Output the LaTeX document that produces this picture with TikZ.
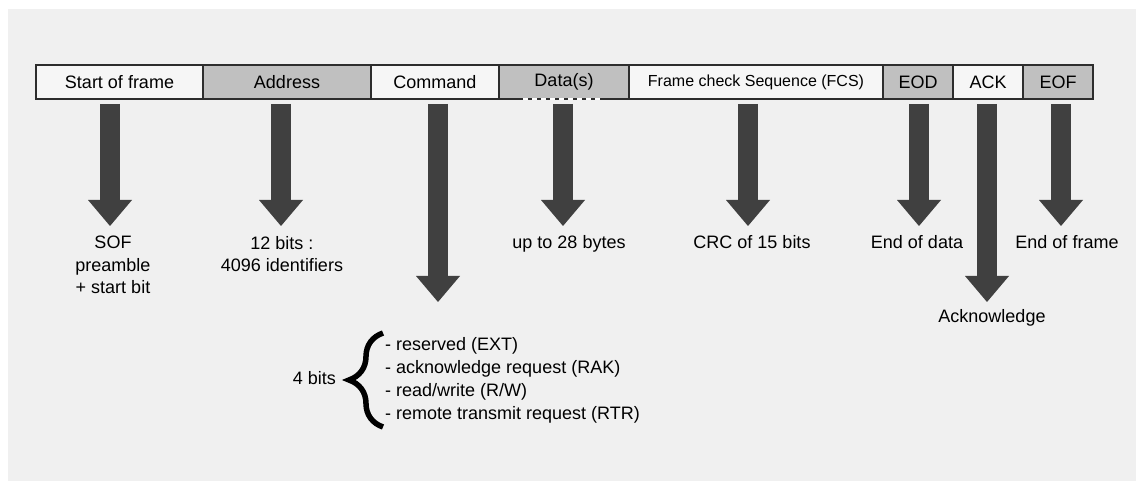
\documentclass[tikz,border=0pt]{standalone}
\usepackage{fontspec}
\setmainfont{Liberation Sans}
\usetikzlibrary{arrows.meta,positioning,calc,decorations.pathreplacing}

\definecolor{panel}{RGB}{240,240,240}
\definecolor{fieldlight}{RGB}{246,246,246}
\definecolor{fielddark}{RGB}{192,192,192}
\definecolor{arrowgray}{RGB}{64,64,64}
\definecolor{framegray}{RGB}{45,45,45}

\begin{document}
\begin{tikzpicture}[
    x=1pt, y=-1pt,
    every node/.style={
        font=\fontsize{18}{22.5}\selectfont,
        inner sep=0pt,
    },
    field/.style={
        draw=framegray, line width=1.5pt, outer sep=0pt,
        minimum height=34pt, anchor=west,
    },
    blockarrow/.style={
        arrowgray, line width=20pt, shorten <=5pt,
        -{Triangle[width=44pt,length=26pt,line width=0pt]},
    },
]
    \useasboundingbox (0,0) rectangle (1136,481);
    \fill[white] (0,0) rectangle (1136,481);
    \fill[panel] (8,9) rectangle (1136,481);

    % the fields of the frame, left to right
    \node[field, fill=fieldlight, minimum width=167pt] (sof) at (36,82) {Start of frame};
    \node[field, fill=fielddark, minimum width=168pt, right=0pt of sof] (addr) {Address};
    \node[field, fill=fieldlight, minimum width=128pt, right=0pt of addr] (cmd) {Command};
    \node[field, fill=fielddark, minimum width=130pt, right=0pt of cmd] (data) {Data(s)};
    \node[field, fill=fieldlight, minimum width=254pt, right=0pt of data,
        font=\fontsize{16}{19}\selectfont] (fcs) {Frame check Sequence (FCS)};
    \node[field, fill=fielddark, minimum width=70pt, right=0pt of fcs] (eod) {EOD};
    \node[field, fill=fieldlight, minimum width=70pt, right=0pt of eod] (ack) {ACK};
    \node[field, fill=fielddark, minimum width=70pt, right=0pt of ack] (eof) {EOF};
    \draw[white, line width=1.5pt, dash pattern=on 5pt off 4pt]
        ($(data.south)+(-41,0)$) -- ($(data.south)+(39,0)$);

    % arrow tips
    \coordinate (sof tip) at (110,226);
    \coordinate (addr tip) at (281,226);
    \coordinate (cmd tip) at (438,302);
    \coordinate (data tip) at (563,226);
    \coordinate (fcs tip) at (748,226);
    \coordinate (eod tip) at (919,226);
    \coordinate (ack tip) at (987,302);
    \coordinate (eof tip) at (1061,226);

    \draw[blockarrow] (sof.south -| sof tip) -- (sof tip);
    \draw[blockarrow] (addr.south -| addr tip) -- (addr tip);
    \draw[blockarrow] (cmd.south -| cmd tip) -- (cmd tip);
    \draw[blockarrow] (data.south -| data tip) -- (data tip);
    \draw[blockarrow] (fcs.south -| fcs tip) -- (fcs tip);
    \draw[blockarrow] (eod.south -| eod tip) -- (eod tip);
    \draw[blockarrow] (ack.south -| ack tip) -- (ack tip);
    \draw[blockarrow] (eof.south -| eof tip) -- (eof tip);

    % what each field holds
    \node[anchor=north, align=center] (sof lbl) at (113,236) {SOF\\preamble\\+ start bit};
    \node[anchor=north, align=center] (addr lbl) at (282,236) {12 bits :\\4096 identifiers};
    \node[anchor=base] (data lbl) at (569,249) {up to 28 bytes};
    \node[anchor=base] (fcs lbl) at (752,249) {CRC of 15 bits};
    \node[anchor=base] (eod lbl) at (917,248.5) {End of data};
    \node[anchor=base] (eof lbl) at (1067,248.5) {End of frame};
    \node[anchor=base] (ack lbl) at (992,323) {Acknowledge};

    % command bits
    \node[anchor=base] (cmd bits) at (314.5,384.5) {4 bits};
    \node[anchor=north west, align=left, font=\fontsize{18}{23}\selectfont] (cmd list) at (385,337.4)
        {- reserved (EXT)\\- acknowledge request (RAK)\\- read/write (R/W)\\- remote transmit request (RTR)};
    \draw[decorate, decoration={brace, amplitude=34pt}, line width=5.5pt]
        (383,427) -- (383,333);
\end{tikzpicture}
\end{document}
